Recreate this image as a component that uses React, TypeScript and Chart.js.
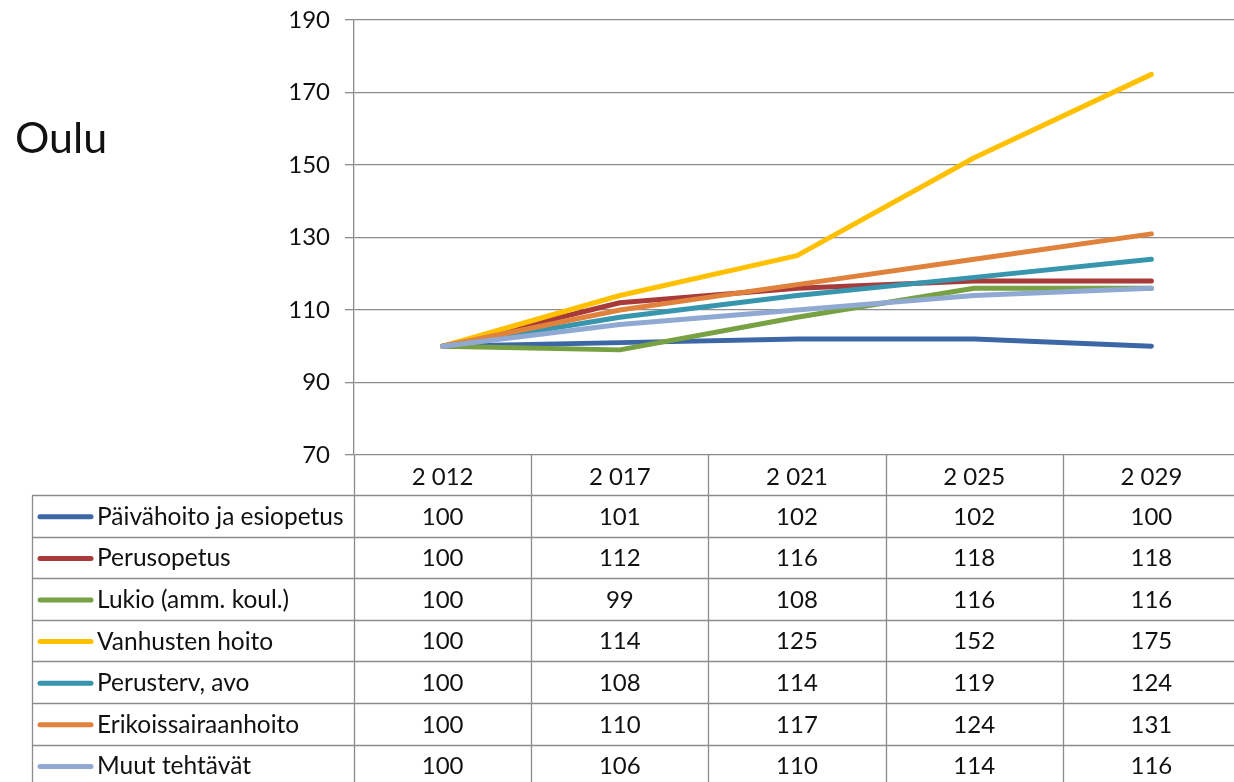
import React, { useEffect, useRef } from "react";
import { Chart, registerables } from "chart.js";

Chart.register(...registerables);

const categories = ["2 012", "2 017", "2 021", "2 025", "2 029"];
const seriesNames = [
  "Päivähoito ja esiopetus",
  "Perusopetus",
  "Lukio (amm. koul.)",
  "Vanhusten hoito",
  "Perusterv, avo",
  "Erikoissairaanhoito",
  "Muut tehtävät",
];
const paivahoito = [100, 101, 102, 102, 100];
const perusopetus = [100, 112, 116, 118, 118];
const lukio = [100, 99, 108, 116, 116];
const vanhusten = [100, 114, 125, 152, 175];
const perusterv = [100, 108, 114, 119, 124];
const erikois = [100, 110, 117, 124, 131];
const muut = [100, 106, 110, 114, 116];
const seriesValues = [paivahoito, perusopetus, lukio, vanhusten, perusterv, erikois, muut];
const seriesColors = ["#3c67a6", "#a83a3a", "#77a143", "#ffc000", "#3796ad", "#e0823c", "#8fa9d3"];
const yTicks = [70, 90, 110, 130, 150, 170, 190];

const FONT = "Lato, 'Liberation Sans', sans-serif";
const CANVAS_W = 1250;
const CANVAS_H = 782;

const tablePlugin = {
  id: "dataTable",
  afterDraw(chart: any) {
    const ctx = chart.ctx;
    const area = chart.chartArea;
    const xs = chart.scales.x;
    const n = categories.length;
    const colW = (area.right - area.left) / n;
    const top = area.bottom;
    const headerH = 40;
    const rowH = 41.6;
    const tableLeft = 32;
    const bottom = CANVAS_H;
    ctx.save();
    ctx.strokeStyle = "#8c8c8c";
    ctx.lineWidth = 1.3;
    for (let r = 0; r <= seriesNames.length; r++) {
      const y = Math.round(top + headerH + r * rowH) + 0.5;
      ctx.beginPath();
      ctx.moveTo(tableLeft, y);
      ctx.lineTo(area.right, y);
      ctx.stroke();
    }
    for (let i = 0; i <= n; i++) {
      const x = Math.round(xs.getPixelForValue(Math.min(i, n - 1)) + (i === n ? colW / 2 : -colW / 2)) + 0.5;
      ctx.beginPath();
      ctx.moveTo(x, top);
      ctx.lineTo(x, bottom);
      ctx.stroke();
    }
    ctx.beginPath();
    ctx.moveTo(tableLeft + 0.5, top + headerH);
    ctx.lineTo(tableLeft + 0.5, bottom);
    ctx.stroke();

    ctx.fillStyle = "#111";
    ctx.font = `24px ${FONT}`;
    ctx.textAlign = "center";
    ctx.textBaseline = "middle";
    seriesValues.forEach((vals, r) => {
      const yc = top + headerH + r * rowH + rowH / 2 + 1;
      vals.forEach((v, i) => {
        ctx.fillText(String(v), xs.getPixelForValue(i), yc);
      });
    });

    ctx.textAlign = "left";
    ctx.font = `24.5px ${FONT}`;
    seriesNames.forEach((name, r) => {
      const yc = top + headerH + r * rowH + rowH / 2 + 1;
      ctx.strokeStyle = seriesColors[r];
      ctx.lineWidth = 5;
      ctx.lineCap = "round";
      ctx.beginPath();
      ctx.moveTo(40, yc);
      ctx.lineTo(91, yc);
      ctx.stroke();
      ctx.fillText(name, 97, yc);
    });
    ctx.restore();
  },
};

export default function App() {
  const ref = useRef<HTMLCanvasElement>(null);
  useEffect(() => {
    if (!ref.current) return;
    const n = seriesNames.length;
    const chart = new Chart(ref.current, {
      type: "line",
      data: {
        labels: categories,
        datasets: seriesNames.map((name, i) => ({
          label: name,
          data: seriesValues[i],
          borderColor: seriesColors[i],
          backgroundColor: seriesColors[i],
          borderWidth: 5,
          pointRadius: 0,
          tension: 0,
          borderCapStyle: "round" as const,
          borderJoinStyle: "round" as const,
          order: n - i,
        })),
      },
      options: {
        responsive: false,
        animation: false,
        devicePixelRatio: 1,
        layout: { padding: { left: 0, top: 20, right: 10, bottom: 0 } },
        plugins: { legend: { display: false }, tooltip: { enabled: false }, title: { display: false } },
        scales: {
          x: {
            offset: true,
            grid: { display: false, offset: true },
            border: { display: false },
            ticks: { color: "#111", font: { family: FONT, size: 24 }, padding: 0, maxRotation: 0, autoSkip: false },
            afterFit: (s: any) => {
              s.height = CANVAS_H - 455;
              s.paddingLeft = 0;
              s.paddingRight = 0;
            },
          },
          y: {
            min: 70,
            max: 190,
            afterBuildTicks: (s: any) => {
              s.ticks = yTicks.map((v) => ({ value: v }));
            },
            grid: { color: "#8c8c8c", lineWidth: 1.3, tickLength: 9, drawTicks: true },
            border: { display: true, color: "#8c8c8c", width: 1.3 },
            ticks: { color: "#111", font: { family: FONT, size: 24 }, padding: 15 },
            afterFit: (s: any) => {
              s.width = 354;
              s.paddingTop = 0;
              s.paddingBottom = 0;
            },
          },
        },
      },
      plugins: [tablePlugin],
    });
    return () => chart.destroy();
  }, []);
  return (
    <div style={{ position: "absolute", left: 0, top: 0, width: 1234, height: 782, overflow: "hidden", background: "#fff" }}>
      <canvas ref={ref} width={CANVAS_W} height={CANVAS_H} style={{ width: CANVAS_W, height: CANVAS_H, display: "block" }} />
      <div style={{ position: "absolute", left: 15, top: 112, fontFamily: FONT, fontSize: 43, color: "#111", lineHeight: "50px" }}>Oulu</div>
    </div>
  );
}
